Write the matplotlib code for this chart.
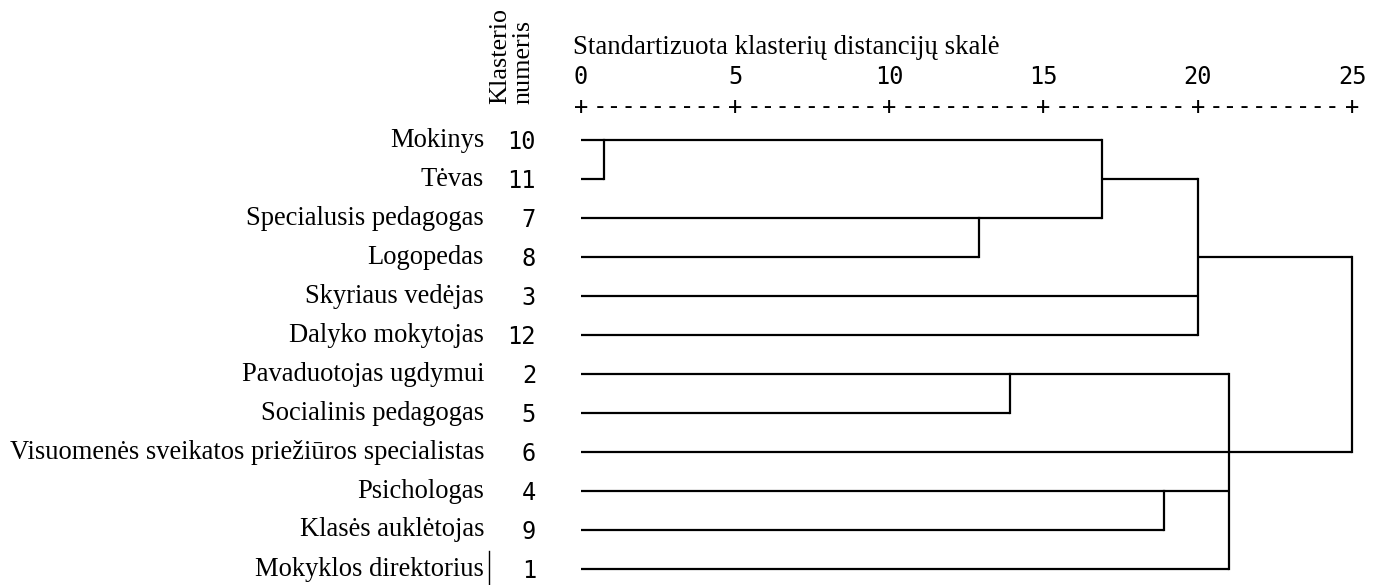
import matplotlib
matplotlib.use('Agg')
import matplotlib.pyplot as plt
from matplotlib.lines import Line2D

# leaves, top to bottom
labels = ['Mokinys', 'Tėvas', 'Specialusis pedagogas', 'Logopedas',
          'Skyriaus vedėjas', 'Dalyko mokytojas', 'Pavaduotojas ugdymui',
          'Socialinis pedagogas', 'Visuomenės sveikatos priežiūros specialistas',
          'Psichologas', 'Klasės auklėtojas', 'Mokyklos direktorius']
cluster_no = [10, 11, 7, 8, 3, 12, 2, 5, 6, 4, 9, 1]

# where each leaf's horizontal line ends (standardised distance)
leaf_end = [16.9, 0.75, 16.9, 12.9, 20.0, 20.0, 21.0, 13.9, 25.0, 21.0, 18.9, 21.0]

# vertical joins: distance, first row, last row
join_x = [0.75, 16.9, 12.9, 20.0, 13.9, 18.9, 21.0, 25.0]
join_top = [0, 0, 2, 1, 6, 9, 6, 3]
join_bot = [1, 2, 3, 5, 7, 10, 11, 8]

# horizontal links between joins: row, from, to
link_row = [1, 3]
link_from = [16.9, 20.0]
link_to = [20.0, 25.0]

ticks = [0, 5, 10, 15, 20, 25]

W, H = 1383, 585
fig = plt.figure(figsize=(W / 100, H / 100), dpi=100)

px_left, px_right = 581, 1352
row0, row_step = 140, 39.0
top_px = row0 - 0.5 * row_step
bot_px = 584.6
ax = fig.add_axes([px_left / W, 1 - bot_px / H, (px_right - px_left) / W, (bot_px - top_px) / H])
ax.set_xlim(0, 25)
ax.set_ylim((bot_px - row0) / row_step, -0.5)
ax.axis('off')

unit = (px_right - px_left) / 25.0
def dx(px):
    return (px - px_left) / unit
def dy(px):
    return (px - row0) / row_step

lw = 1.6
for i, end in enumerate(leaf_end):
    ax.plot([0, end], [i, i], color='black', lw=lw, solid_capstyle='butt', clip_on=False)
for x, a, b in zip(join_x, join_top, join_bot):
    ax.plot([x, x], [a, b], color='black', lw=lw, solid_capstyle='projecting', clip_on=False)
for r, a, b in zip(link_row, link_from, link_to):
    ax.plot([a, b], [r, r], color='black', lw=lw, solid_capstyle='butt', clip_on=False)

serif = 'Liberation Serif'
mono = 'DejaVu Sans Mono'

for i, (lab, n) in enumerate(zip(labels, cluster_no)):
    ax.text(dx(484), i, lab, ha='right', va='center', family=serif, fontsize=19.1)
    ax.text(dx(536), i + 0.05, str(n), ha='right', va='center', family=mono, fontsize=17)

# header
ax.text(dx(500), dy(104), 'Klasterio', rotation=90, ha='center', va='bottom',
        family=serif, fontsize=18.8)
ax.text(dx(523), dy(104), 'numeris', rotation=90, ha='center', va='bottom',
        family=serif, fontsize=18.8)
ax.text(dx(573), dy(48), 'Standartizuota klasterių distancijų skalė', ha='left',
        va='center', family=serif, fontsize=19.3)

for t in ticks:
    ax.text(t, dy(77), str(t), ha='center', va='center', family=mono, fontsize=17)
    ax.text(t, dy(107), '+', ha='center', va='center', family=mono, fontsize=17)
for a, b in zip(ticks[:-1], ticks[1:]):
    ax.text((a + b) / 2, dy(107), '-' * 9, ha='center', va='center', family=mono, fontsize=17.5)

# stray caret line next to the last label
fig.add_artist(Line2D([489 / W, 489 / W], [1 - 551 / H, 0], color='black', lw=1.0))

fig.savefig('out.png', dpi=100, facecolor='white')
